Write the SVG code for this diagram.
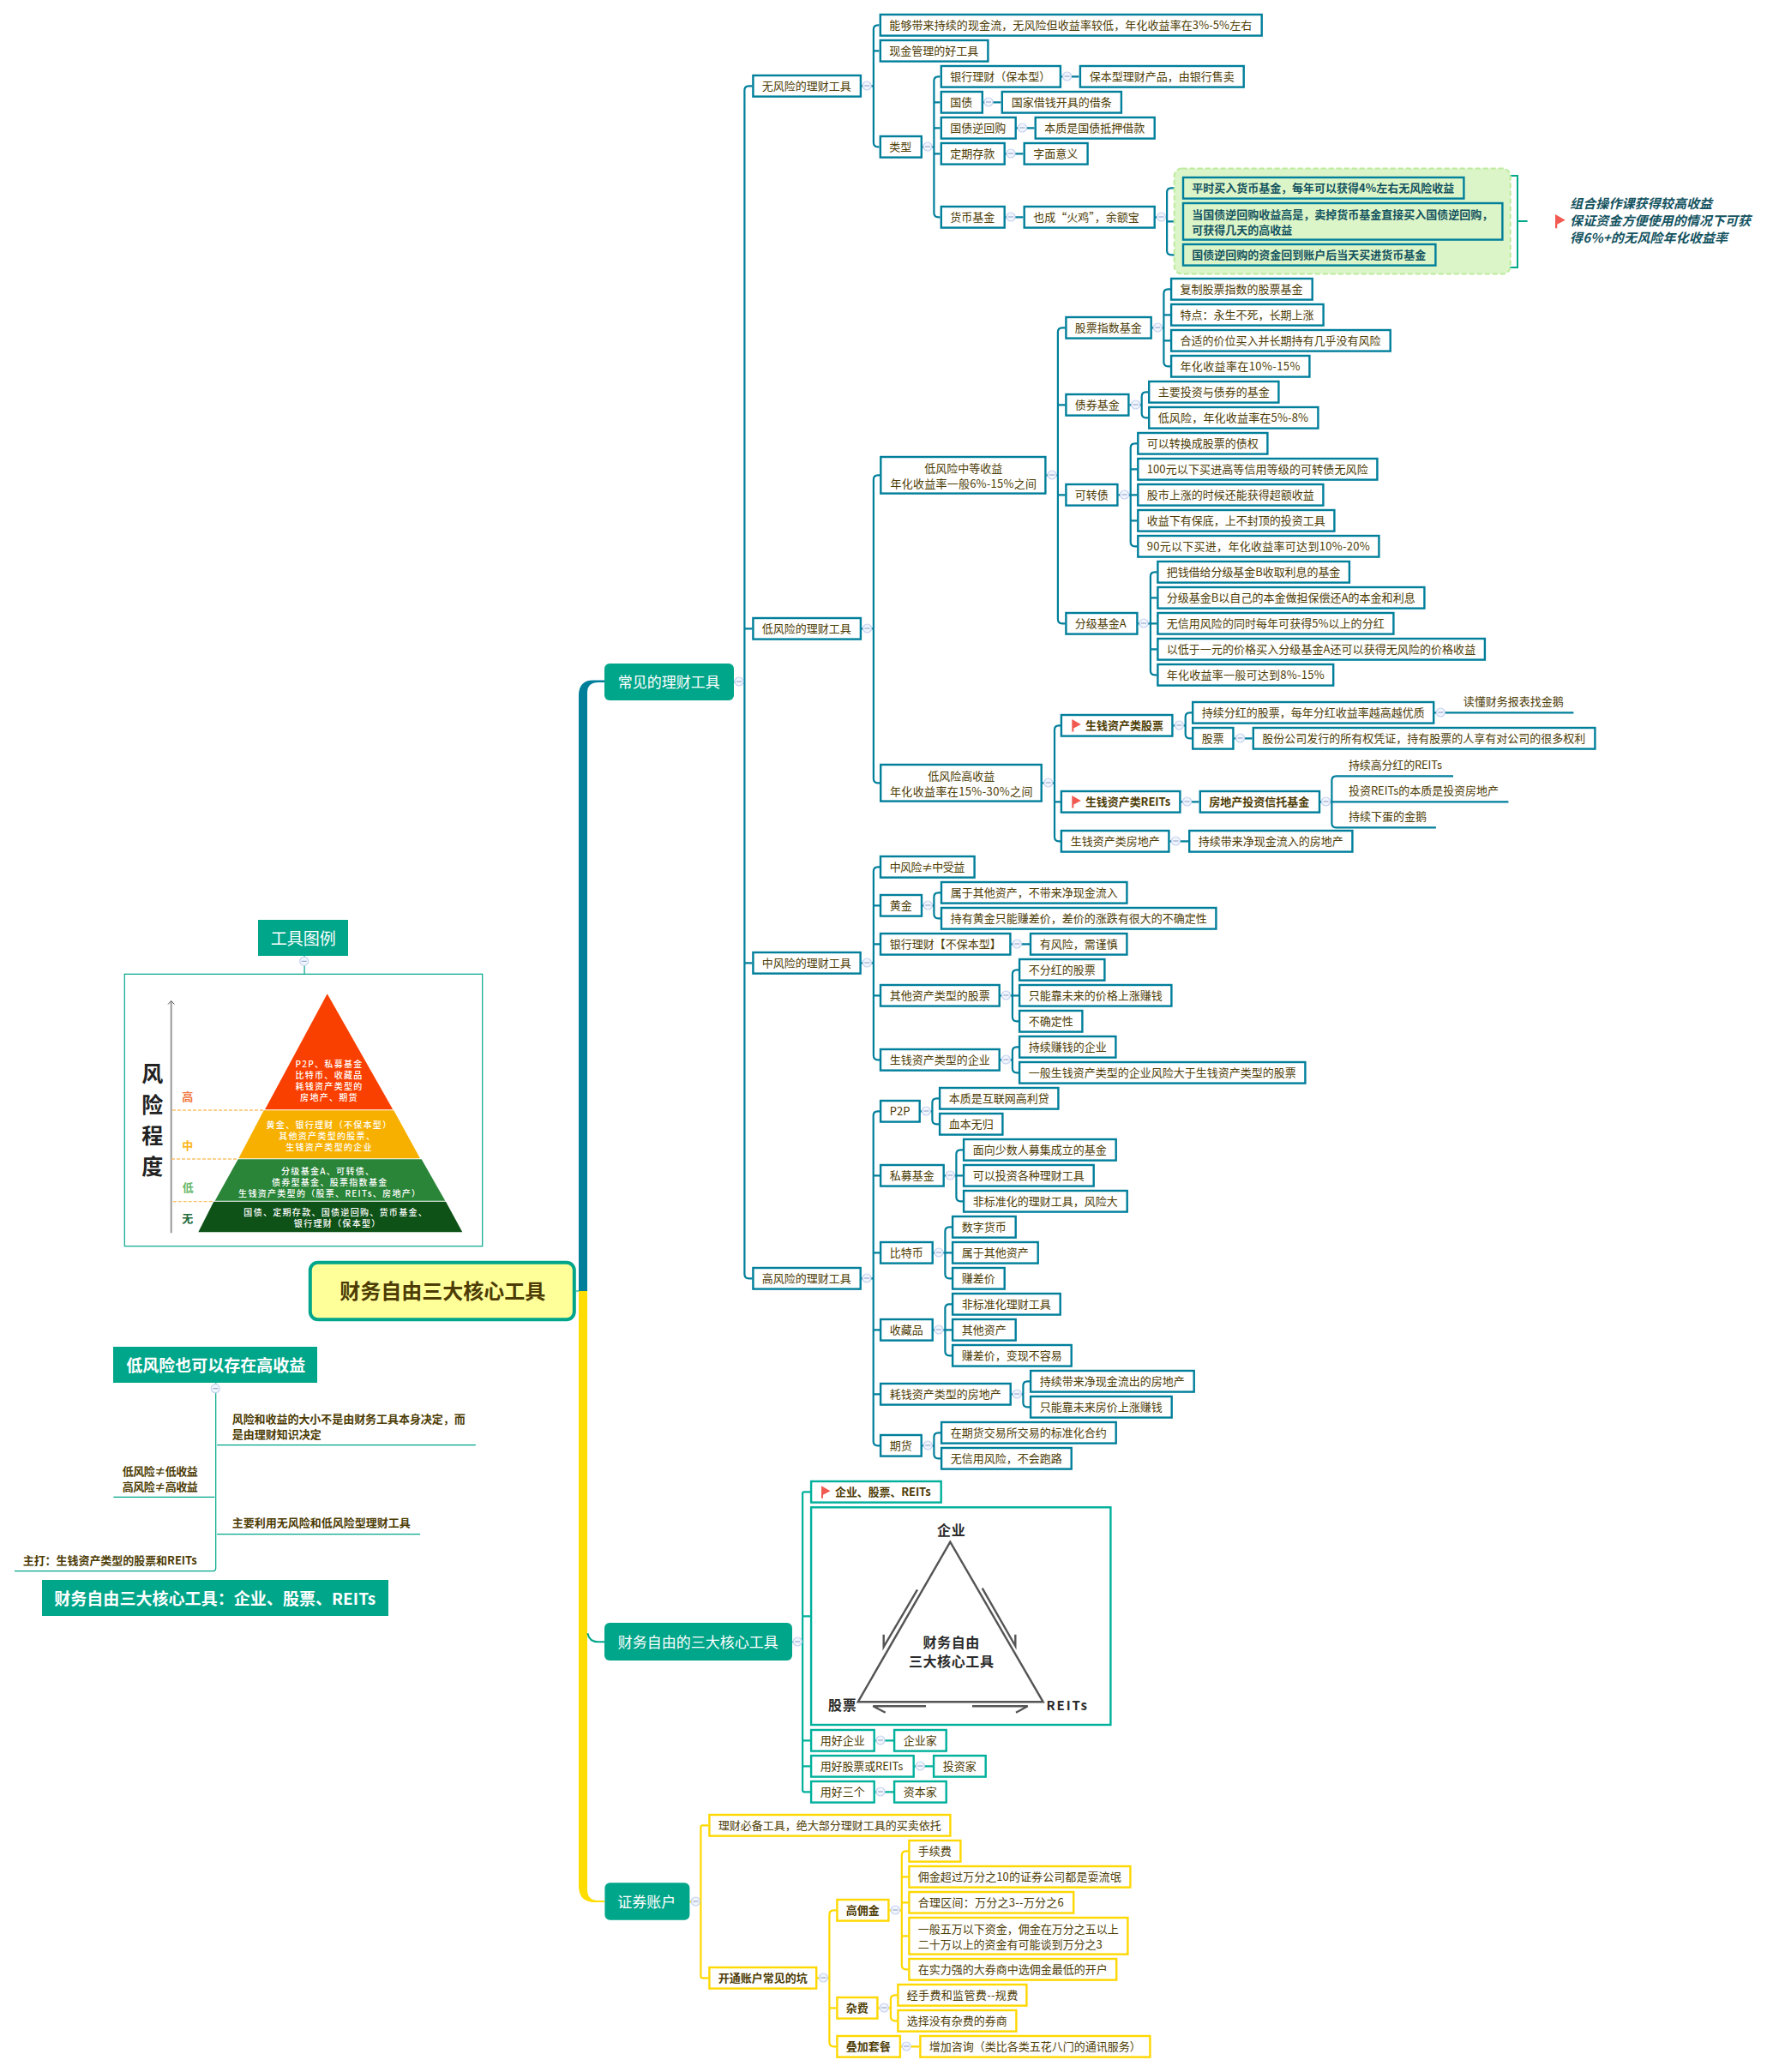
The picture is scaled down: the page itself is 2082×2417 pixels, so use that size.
<svg xmlns="http://www.w3.org/2000/svg" width="2082" height="2417" viewBox="0 0 2082 2417">
<style>
text{font-family:"Noto Sans CJK SC","Noto Sans",sans-serif;font-size:13px;fill:#4d3c05;transform:translate(.7px,.6px)}
.b,.g,.y,.gr{fill:#fff;stroke-width:2.4;transform:translate(.4px,.3px)}
.b{stroke:#007f9b}.gr{stroke:#007f9b;fill:#dbf5c8}.g{stroke:#00b09b}.y{stroke:#ffd800}
.cb,.cg,.cy,.ct{fill:none;stroke-width:2.2;transform:translate(.4px,.3px)}
.cb{stroke:#007f9b}.cg{stroke:#00b09b}.cy{stroke:#ffd800}.ct{stroke:#00a68a;stroke-width:1.2}
.m{fill:#00a68a}
.c{text-anchor:middle}
.bd{font-weight:700}
.dk{fill:#14535f;font-weight:700}
.p{fill:#fff;font-size:10px;letter-spacing:1.3px;text-anchor:middle;font-weight:500}
.tri{fill:#2b2b2b;font-weight:700;font-size:16px;text-anchor:middle;letter-spacing:.6px}
.d{stroke:#fbc26a;stroke-width:1.3;stroke-dasharray:4 2;fill:none}
.s{stroke:#555;stroke-width:2.4;fill:none}
.i{font-size:15px;font-style:italic}
</style>
<defs>
<g id="minus"><circle r="5" fill="#f1f5fd" stroke="#c5d2f0" stroke-width="1.2"/><path d="M-3 0H3" stroke="#8a9bc8" stroke-width="1"/></g>
<path id="flag" d="M0 0L10.5 6L2 10.5V14.5H0Z" fill="#f15a50"/>
</defs>
<rect width="2082" height="2417" fill="#fff"/>

<g id="connectors">
<path d="M705 793.5H692Q675 793.5 675 811V1506H685V808Q685 796 698 796H705Z" fill="#007f9b"/>
<path d="M675 1506V2200Q675 2219 694 2219H705V2217H698Q685 2217 685 2204V1506Z" fill="#ffdd00"/>
<path class="ct" d="M671 1505.7H675"/>
<path class="ct" d="M685 1905Q687 1915 697 1915H705" style="stroke-width:2"/>
<path class="cb" d="M856 795H868M877 100H873Q868 100 868 105V1486Q868 1491 873 1491H877M868 733H877M868 1123H877"/>
<path class="cb" d="M1004 100H1018.5M1025 29H1023.5Q1018.5 29 1018.5 34V166Q1018.5 171 1023.5 171H1025M1018.5 59H1025"/>
<path class="cb" d="M1075 171H1089M1096 89H1094Q1089 89 1089 94V248Q1089 253 1094 253H1096M1089 119H1096M1089 149H1096M1089 179H1096"/>
<path class="cb" d="M1237 89H1258M1146 119H1167M1185 149H1206M1172 179H1193M1172 253H1193M1347 253H1360.7M1378 219H1365.7Q1360.7 219 1360.7 224V292Q1360.7 297 1365.7 297H1378M1360.7 258H1378"/>
<path class="cb" d="M1004 733H1018.5M1026 554H1023.5Q1018.5 554 1018.5 559V908Q1018.5 913 1023.5 913H1026"/>
<path class="cb" d="M1220 554H1233.5M1242 382H1238.5Q1233.5 382 1233.5 387V722Q1233.5 727 1238.5 727H1242M1233.5 472H1242M1233.5 577H1242"/>
<path class="cb" d="M1343 382H1357M1365 337H1362Q1357 337 1357 342V422Q1357 427 1362 427H1365M1357 367H1365M1357 397H1365"/>
<path class="cb" d="M1317 472H1331.3M1339 457H1336.3Q1331.3 457 1331.3 462V482Q1331.3 487 1336.3 487H1339"/>
<path class="cb" d="M1304 577H1318.3M1326 517H1323.3Q1318.3 517 1318.3 522V632Q1318.3 637 1323.3 637H1326M1318.3 547H1326M1318.3 577H1326M1318.3 607H1326"/>
<path class="cb" d="M1327 727H1341.5M1349 667H1346.5Q1341.5 667 1341.5 672V782Q1341.5 787 1346.5 787H1349M1341.5 697H1349M1341.5 727H1349M1341.5 757H1349"/>
<path class="cb" d="M1215 913H1229.6M1237 846H1234.6Q1229.6 846 1229.6 851V976Q1229.6 981 1234.6 981H1237M1229.6 935H1237"/>
<path class="cb" d="M1368 846H1382.3M1390 831H1387.3Q1382.3 831 1382.3 836V856Q1382.3 861 1387.3 861H1390"/>
<path class="cb" d="M1672 831H1835M1439 861H1460M1377 935H1398M1539 935H1759M1694.6 905H1558Q1553 905 1553 910V960Q1553 965 1558 965H1674.5M1364 981H1386"/>
<path class="cb" d="M1004 1123H1018.5M1026 1011H1023.5Q1018.5 1011 1018.5 1016V1231Q1018.5 1236 1023.5 1236H1026M1018.5 1056H1026M1018.5 1101H1026M1018.5 1161H1026"/>
<path class="cb" d="M1075 1056H1089M1097 1041H1094Q1089 1041 1089 1046V1066Q1089 1071 1094 1071H1097M1179 1101H1201"/>
<path class="cb" d="M1166 1161H1180.5M1188 1131H1185.5Q1180.5 1131 1180.5 1136V1186Q1180.5 1191 1185.5 1191H1188M1180.5 1161H1188"/>
<path class="cb" d="M1166 1236H1180.5M1188 1221H1185.5Q1180.5 1221 1180.5 1226V1246Q1180.5 1251 1185.5 1251H1188"/>
<path class="cb" d="M1004 1491H1018.3M1026 1296H1023.3Q1018.3 1296 1018.3 1301V1681Q1018.3 1686 1023.3 1686H1026M1018.3 1371H1026M1018.3 1461H1026M1018.3 1551H1026M1018.3 1626H1026"/>
<path class="cb" d="M1073 1296H1087M1095 1281H1092Q1087 1281 1087 1286V1306Q1087 1311 1092 1311H1095"/>
<path class="cb" d="M1101 1371H1115M1123 1341H1120Q1115 1341 1115 1346V1396Q1115 1401 1120 1401H1123M1115 1371H1123"/>
<path class="cb" d="M1088 1461H1102M1110 1431H1107Q1102 1431 1102 1436V1486Q1102 1491 1107 1491H1110M1102 1461H1110"/>
<path class="cb" d="M1088 1551H1102M1110 1521H1107Q1102 1521 1102 1526V1576Q1102 1581 1107 1581H1110M1102 1551H1110"/>
<path class="cb" d="M1179 1626H1193M1201 1611H1198Q1193 1611 1193 1616V1636Q1193 1641 1198 1641H1201"/>
<path class="cb" d="M1075 1686H1089M1097 1671H1094Q1089 1671 1089 1676V1696Q1089 1701 1094 1701H1097"/>
<path class="cg" d="M924 1915H935.7M945 1740H937.7Q935.7 1740 935.7 1742V2088Q935.7 2090 937.7 2090H945M935.7 1885H945M935.7 2030H945M935.7 2060H945M1020 2030H1042M1066 2060H1088M1020 2090H1042"/>
<path class="cy" d="M804 2218H817M826 2129H819Q817 2129 817 2131V2305Q817 2307 819 2307H826M952 2307H967M975 2228H972Q967 2228 967 2233V2382Q967 2387 972 2387H975M967 2342H975"/>
<path class="cy" d="M1037 2228H1051.4M1059 2159H1056.4Q1051.4 2159 1051.4 2164V2292Q1051.4 2297 1056.4 2297H1059M1051.4 2189H1059M1051.4 2219H1059M1051.4 2258H1059M1024 2342H1038.5M1046 2327H1043.5Q1038.5 2327 1038.5 2332V2352Q1038.5 2357 1043.5 2357H1046M1050 2387H1072"/>
<path d="M1760.7 205H1770V312H1760.7M1770 258H1781.6" fill="none" stroke="#00a88a" stroke-width="2"/>
<path class="ct" d="M354.7 1115V1136.3M251.3 1613V1829Q251.3 1832.3 248 1832.3H16.5M252.7 1685.3H554.5M250 1746H132M252.7 1789.3H489.7"/>
</g>
<g id="collapse-handles">
<use href="#minus" x="862" y="795"/><use href="#minus" x="1011.2" y="100"/><use href="#minus" x="1082" y="171"/><use href="#minus" x="1244.6" y="89"/><use href="#minus" x="1153" y="119"/><use href="#minus" x="1192.4" y="149"/><use href="#minus" x="1179" y="179"/><use href="#minus" x="1179" y="253"/><use href="#minus" x="1354.5" y="253"/>
<use href="#minus" x="1011.6" y="733"/><use href="#minus" x="1227" y="554"/><use href="#minus" x="1350.4" y="382"/><use href="#minus" x="1324.6" y="472"/><use href="#minus" x="1311.6" y="577"/><use href="#minus" x="1334" y="727"/><use href="#minus" x="1222.7" y="913"/><use href="#minus" x="1375.4" y="846"/><use href="#minus" x="1680.3" y="831"/><use href="#minus" x="1446.6" y="861"/><use href="#minus" x="1384.6" y="935"/><use href="#minus" x="1546.5" y="935"/><use href="#minus" x="1371.4" y="981"/>
<use href="#minus" x="1011.3" y="1123"/><use href="#minus" x="1082.3" y="1056"/><use href="#minus" x="1186.3" y="1101"/><use href="#minus" x="1173.4" y="1161"/><use href="#minus" x="1173.4" y="1236"/>
<use href="#minus" x="1011" y="1491"/><use href="#minus" x="1080.3" y="1296"/><use href="#minus" x="1108.3" y="1371"/><use href="#minus" x="1095" y="1461"/><use href="#minus" x="1095" y="1551"/><use href="#minus" x="1186.3" y="1626"/><use href="#minus" x="1082.3" y="1686"/>
<use href="#minus" x="930.3" y="1915"/><use href="#minus" x="1027" y="2030"/><use href="#minus" x="1073.3" y="2060"/><use href="#minus" x="1027" y="2090"/>
<use href="#minus" x="811.3" y="2218"/><use href="#minus" x="960.4" y="2307"/><use href="#minus" x="1044.3" y="2228"/><use href="#minus" x="1031.3" y="2342"/><use href="#minus" x="1057.2" y="2387"/>
<use href="#minus" x="354.7" y="1121.3"/><use href="#minus" x="251.3" y="1619.7"/>
</g>

<g id="root"><rect x="361.8" y="1472.7" width="308" height="66.6" rx="9" fill="#ffff99" stroke="#00a68a" stroke-width="4"/><text class="c bd" x="515.5" y="1514.5" style="font-size:24px">财务自由三大核心工具</text></g>

<g id="main1"><rect class="m" x="705" y="774" width="151" height="43" rx="6"/><text class="c" x="779.5" y="801.5" style="font-size:17px;fill:#fff">常见的理财工具</text></g>
<g id="main2"><rect class="m" x="705" y="1893" width="219" height="44" rx="6"/><text class="c" x="813.5" y="1921" style="font-size:17px;fill:#fff">财务自由的三大核心工具</text></g>
<g id="main3"><rect class="m" x="705.4" y="2196.3" width="99" height="43.4" rx="6"/><text class="c" x="753.5" y="2224" style="font-size:17px;fill:#fff">证券账户</text></g>

<g id="n-wufengxian"><rect class="b" x="878" y="87.7" width="125.5" height="24.6"/><text x="888" y="104.5">无风险的理财工具</text></g>
<g id="n1"><rect class="b" x="1026.4" y="16.7" width="444.9" height="24.6"/><text x="1036.6" y="33.5" textLength="423">能够带来持续的现金流，无风险但收益率较低，年化收益率在3%-5%左右</text></g>
<g id="n2"><rect class="b" x="1026.4" y="46.7" width="125.6" height="24.6"/><text x="1036.6" y="63.5">现金管理的好工具</text></g>
<g id="n3"><rect class="b" x="1026.4" y="158.7" width="48" height="24.6"/><text x="1036.6" y="175.5">类型</text></g>
<g id="n4"><rect class="b" x="1097.4" y="76.7" width="139.1" height="24.6"/><text x="1107.6" y="93.5">银行理财（保本型）</text></g>
<g id="n5"><rect class="b" x="1259.5" y="76.7" width="190.8" height="24.6"/><text x="1270" y="93.5">保本型理财产品，由银行售卖</text></g>
<g id="n6"><rect class="b" x="1097.4" y="106.7" width="48" height="24.6"/><text x="1107.6" y="123.5">国债</text></g>
<g id="n7"><rect class="b" x="1168.4" y="106.7" width="139.1" height="24.6"/><text x="1179" y="123.5">国家借钱开具的借条</text></g>
<g id="n8"><rect class="b" x="1097.4" y="136.7" width="86.9" height="24.6"/><text x="1107.6" y="153.5">国债逆回购</text></g>
<g id="n9"><rect class="b" x="1207.3" y="136.7" width="139" height="24.6"/><text x="1217.6" y="153.5">本质是国债抵押借款</text></g>
<g id="n10"><rect class="b" x="1097.4" y="166.7" width="73.9" height="24.6"/><text x="1107.6" y="183.5">定期存款</text></g>
<g id="n11"><rect class="b" x="1194.3" y="166.7" width="73.9" height="24.6"/><text x="1204.6" y="183.5">字面意义</text></g>
<g id="n12"><rect class="b" x="1097.4" y="240.7" width="73.9" height="24.6"/><text x="1107.6" y="257.5">货币基金</text></g>
<g id="n13"><rect class="b" x="1194.3" y="240.7" width="152" height="24.6"/><text x="1204.6" y="257.5">也成“火鸡”，余额宝</text></g>

<g id="summary-box"><rect x="1369.7" y="196.5" width="392" height="123" rx="9" fill="#dbf5c8" stroke="#bdeb9e" stroke-width="2" stroke-dasharray="6 3"/></g>
<g id="n14"><rect class="gr" x="1379.6" y="206.7" width="327.4" height="24.6"/><text class="dk" x="1389.5" y="223.5" textLength="306">平时买入货币基金，每年可以获得4%左右无风险收益</text></g>
<g id="n15"><rect class="gr" x="1379.6" y="236.7" width="372.4" height="42.6"/><text class="dk" x="1389.5" y="254.5">当国债逆回购收益高是，卖掉货币基金直接买入国债逆回购，</text><text class="dk" x="1389.5" y="272.8">可获得几天的高收益</text></g>
<g id="n16"><rect class="gr" x="1379.6" y="284.7" width="294.4" height="24.6"/><text class="dk" x="1389.5" y="301.5">国债逆回购的资金回到账户后当天买进货币基金</text></g>
<g id="summary-note"><use href="#flag" transform="translate(1814 250) scale(1.12)"/><text class="dk i" x="1830.4" y="242.7" textLength="166">组合操作课获得较高收益</text><text class="dk i" x="1830.4" y="262.7" textLength="211">保证资金方便使用的情况下可获</text><text class="dk i" x="1830.4" y="282.7" textLength="184">得6%+的无风险年化收益率</text></g>

<g id="n-difengxian"><rect class="b" x="878" y="720.7" width="125.5" height="24.6"/><text x="888" y="737.5">低风险的理财工具</text></g>
<g id="n20"><rect class="b" x="1026.9" y="532.7" width="192.1" height="42.6"/><text class="c" x="1123" y="550.5">低风险中等收益</text><text class="c" x="1123" y="568.8" textLength="170.5">年化收益率一般6%-15%之间</text></g>
<g id="n21"><rect class="b" x="1243" y="369.7" width="99.3" height="24.6"/><text x="1253" y="386.5">股票指数基金</text></g>
<g id="n22"><rect class="b" x="1365.7" y="324.7" width="164.6" height="24.6"/><text x="1375.7" y="341.5">复制股票指数的股票基金</text></g>
<g id="n23"><rect class="b" x="1365.7" y="354.7" width="177.5" height="24.6"/><text x="1375.7" y="371.5">特点：永生不死，长期上涨</text></g>
<g id="n24"><rect class="b" x="1365.7" y="384.7" width="255.6" height="24.6"/><text x="1375.7" y="401.5">合适的价位买入并长期持有几乎没有风险</text></g>
<g id="n25"><rect class="b" x="1365.7" y="414.7" width="161.3" height="24.6"/><text x="1375.7" y="431.5" textLength="140">年化收益率在10%-15%</text></g>
<g id="n26"><rect class="b" x="1243" y="459.7" width="73" height="24.6"/><text x="1253" y="476.5">债券基金</text></g>
<g id="n27"><rect class="b" x="1339.8" y="444.7" width="151.2" height="24.6"/><text x="1350" y="461.5">主要投资与债券的基金</text></g>
<g id="n28"><rect class="b" x="1339.8" y="474.7" width="197.2" height="24.6"/><text x="1350" y="491.5" textLength="175.4">低风险，年化收益率在5%-8%</text></g>
<g id="n29"><rect class="b" x="1243" y="564.7" width="60" height="24.6"/><text x="1253" y="581.5">可转债</text></g>
<g id="n30"><rect class="b" x="1326.9" y="504.7" width="151.1" height="24.6"/><text x="1337" y="521.5">可以转换成股票的债权</text></g>
<g id="n31"><rect class="b" x="1326.9" y="534.7" width="279.1" height="24.6"/><text x="1337" y="551.5" textLength="258">100元以下买进高等信用等级的可转债无风险</text></g>
<g id="n32"><rect class="b" x="1326.9" y="564.7" width="216.1" height="24.6"/><text x="1337" y="581.5">股市上涨的时候还能获得超额收益</text></g>
<g id="n33"><rect class="b" x="1326.9" y="594.7" width="229.1" height="24.6"/><text x="1337" y="611.5">收益下有保底，上不封顶的投资工具</text></g>
<g id="n34"><rect class="b" x="1326.9" y="624.7" width="281.1" height="24.6"/><text x="1337" y="641.5" textLength="260">90元以下买进，年化收益率可达到10%-20%</text></g>
<g id="n35"><rect class="b" x="1243" y="714.7" width="83" height="24.6"/><text x="1253" y="731.5" textLength="60">分级基金A</text></g>
<g id="n36"><rect class="b" x="1350" y="654.7" width="223.5" height="24.6"/><text x="1360" y="671.5" textLength="202.7">把钱借给分级基金B收取利息的基金</text></g>
<g id="n37"><rect class="b" x="1350" y="684.7" width="311" height="24.6"/><text x="1360" y="701.5" textLength="290">分级基金B以自己的本金做担保偿还A的本金和利息</text></g>
<g id="n38"><rect class="b" x="1350" y="714.7" width="275" height="24.6"/><text x="1360" y="731.5" textLength="254">无信用风险的同时每年可获得5%以上的分红</text></g>
<g id="n39"><rect class="b" x="1350" y="744.7" width="381.5" height="24.6"/><text x="1360" y="761.5" textLength="360.5">以低于一元的价格买入分级基金A还可以获得无风险的价格收益</text></g>
<g id="n40"><rect class="b" x="1350" y="774.7" width="204.8" height="24.6"/><text x="1360" y="791.5" textLength="184">年化收益率一般可达到8%-15%</text></g>
<g id="n41"><rect class="b" x="1026.8" y="891.7" width="187.5" height="42.6"/><text class="c" x="1120.5" y="909.5">低风险高收益</text><text class="c" x="1120.5" y="927.8" textLength="166.5">年化收益率在15%-30%之间</text></g>
<g id="n42"><rect class="b" x="1237.5" y="833.7" width="129.5" height="24.6"/><use href="#flag" x="1250.3" y="839"/><text class="bd" x="1265.2" y="850.5">生钱资产类股票</text></g>
<g id="n43"><rect class="b" x="1390.8" y="818.7" width="281" height="24.6"/><text x="1401" y="835.5">持续分红的股票，每年分红收益率越高越优质</text></g>
<g id="n44"><text x="1706" y="822.5">读懂财务报表找金鹅</text></g>
<g id="n45"><rect class="b" x="1390.8" y="848.7" width="47.2" height="24.6"/><text x="1401" y="865.5">股票</text></g>
<g id="n46"><rect class="b" x="1461.4" y="848.7" width="398.6" height="24.6"/><text x="1471.5" y="865.5">股份公司发行的所有权凭证，持有股票的人享有对公司的很多权利</text></g>
<g id="n47"><rect class="b" x="1237.5" y="922.7" width="138.5" height="24.6"/><use href="#flag" x="1250.3" y="928"/><text class="bd" x="1265.2" y="939.5" textLength="99.3">生钱资产类REITs</text></g>
<g id="n48"><rect class="b" x="1399.4" y="922.7" width="139.2" height="24.6"/><text class="bd" x="1409.5" y="939.5">房地产投资信托基金</text></g>
<g id="n49"><text x="1572.3" y="896.5" textLength="109">持续高分红的REITs</text></g>
<g id="n50"><text x="1572.3" y="926.5" textLength="175">投资REITs的本质是投资房地产</text></g>
<g id="n51"><text x="1572.3" y="956.5">持续下蛋的金鹅</text></g>
<g id="n52"><rect class="b" x="1237.5" y="968.7" width="125.5" height="24.6"/><text x="1248" y="985.5">生钱资产类房地产</text></g>
<g id="n53"><rect class="b" x="1386.8" y="968.7" width="190.2" height="24.6"/><text x="1397" y="985.5">持续带来净现金流入的房地产</text></g>

<g id="n-zhongfengxian"><rect class="b" x="878" y="1110.7" width="125.2" height="24.6"/><text x="888" y="1127.5">中风险的理财工具</text></g>
<g id="n60"><rect class="b" x="1026.6" y="998.7" width="109.6" height="24.6"/><text x="1037" y="1015.5" textLength="87.5">中风险≠中受益</text></g>
<g id="n61"><rect class="b" x="1026.6" y="1043.7" width="48" height="24.6"/><text x="1037" y="1060.5">黄金</text></g>
<g id="n62"><rect class="b" x="1097.6" y="1028.7" width="216.4" height="24.6"/><text x="1108" y="1045.5">属于其他资产，不带来净现金流入</text></g>
<g id="n63"><rect class="b" x="1097.6" y="1058.7" width="320.4" height="24.6"/><text x="1108" y="1075.5">持有黄金只能赚差价，差价的涨跌有很大的不确定性</text></g>
<g id="n64"><rect class="b" x="1026.6" y="1088.7" width="151.4" height="24.6"/><text x="1037" y="1105.5">银行理财【不保本型】</text></g>
<g id="n65"><rect class="b" x="1201.6" y="1088.7" width="112.4" height="24.6"/><text x="1212" y="1105.5">有风险，需谨慎</text></g>
<g id="n66"><rect class="b" x="1026.6" y="1148.7" width="138.7" height="24.6"/><text x="1037" y="1165.5">其他资产类型的股票</text></g>
<g id="n67"><rect class="b" x="1188.7" y="1118.7" width="99.3" height="24.6"/><text x="1199" y="1135.5">不分红的股票</text></g>
<g id="n68"><rect class="b" x="1188.7" y="1148.7" width="177.3" height="24.6"/><text x="1199" y="1165.5">只能靠未来的价格上涨赚钱</text></g>
<g id="n69"><rect class="b" x="1188.7" y="1178.7" width="73.3" height="24.6"/><text x="1199" y="1195.5">不确定性</text></g>
<g id="n70"><rect class="b" x="1026.6" y="1223.7" width="138.7" height="24.6"/><text x="1037" y="1240.5">生钱资产类型的企业</text></g>
<g id="n71"><rect class="b" x="1188.7" y="1208.7" width="112.3" height="24.6"/><text x="1199" y="1225.5">持续赚钱的企业</text></g>
<g id="n72"><rect class="b" x="1188.7" y="1238.7" width="333.3" height="24.6"/><text x="1199" y="1255.5">一般生钱资产类型的企业风险大于生钱资产类型的股票</text></g>

<g id="n-gaofengxian"><rect class="b" x="878" y="1478.7" width="125.3" height="24.6"/><text x="888" y="1495.5">高风险的理财工具</text></g>
<g id="n80"><rect class="b" x="1026.7" y="1283.7" width="45.6" height="24.6"/><text x="1037" y="1300.5" textLength="23.7">P2P</text></g>
<g id="n81"><rect class="b" x="1095.7" y="1268.7" width="138.3" height="24.6"/><text x="1106" y="1285.5">本质是互联网高利贷</text></g>
<g id="n82"><rect class="b" x="1095.7" y="1298.7" width="73.3" height="24.6"/><text x="1106" y="1315.5">血本无归</text></g>
<g id="n83"><rect class="b" x="1026.7" y="1358.7" width="73.6" height="24.6"/><text x="1037" y="1375.5">私募基金</text></g>
<g id="n84"><rect class="b" x="1123.7" y="1328.7" width="177.6" height="24.6"/><text x="1134" y="1345.5">面向少数人募集成立的基金</text></g>
<g id="n85"><rect class="b" x="1123.7" y="1358.7" width="151.6" height="24.6"/><text x="1134" y="1375.5">可以投资各种理财工具</text></g>
<g id="n86"><rect class="b" x="1123.7" y="1388.7" width="190.6" height="24.6"/><text x="1134" y="1405.5">非标准化的理财工具，风险大</text></g>
<g id="n87"><rect class="b" x="1026.7" y="1448.7" width="60.6" height="24.6"/><text x="1037" y="1465.5">比特币</text></g>
<g id="n88"><rect class="b" x="1110.7" y="1418.7" width="73.6" height="24.6"/><text x="1121" y="1435.5">数字货币</text></g>
<g id="n89"><rect class="b" x="1110.7" y="1448.7" width="99.6" height="24.6"/><text x="1121" y="1465.5">属于其他资产</text></g>
<g id="n90"><rect class="b" x="1110.7" y="1478.7" width="60.6" height="24.6"/><text x="1121" y="1495.5">赚差价</text></g>
<g id="n91"><rect class="b" x="1026.7" y="1538.7" width="60.6" height="24.6"/><text x="1037" y="1555.5">收藏品</text></g>
<g id="n92"><rect class="b" x="1110.7" y="1508.7" width="125.6" height="24.6"/><text x="1121" y="1525.5">非标准化理财工具</text></g>
<g id="n93"><rect class="b" x="1110.7" y="1538.7" width="73.6" height="24.6"/><text x="1121" y="1555.5">其他资产</text></g>
<g id="n94"><rect class="b" x="1110.7" y="1568.7" width="138.6" height="24.6"/><text x="1121" y="1585.5">赚差价，变现不容易</text></g>
<g id="n95"><rect class="b" x="1026.7" y="1613.7" width="151.6" height="24.6"/><text x="1037" y="1630.5">耗钱资产类型的房地产</text></g>
<g id="n96"><rect class="b" x="1201.7" y="1598.7" width="190.6" height="24.6"/><text x="1212" y="1615.5">持续带来净现金流出的房地产</text></g>
<g id="n97"><rect class="b" x="1201.7" y="1628.7" width="164.6" height="24.6"/><text x="1212" y="1645.5">只能靠未来房价上涨赚钱</text></g>
<g id="n98"><rect class="b" x="1026.7" y="1673.7" width="47.6" height="24.6"/><text x="1037" y="1690.5">期货</text></g>
<g id="n99"><rect class="b" x="1097.7" y="1658.7" width="203.6" height="24.6"/><text x="1108" y="1675.5">在期货交易所交易的标准化合约</text></g>
<g id="n100"><rect class="b" x="1097.7" y="1688.7" width="151.6" height="24.6"/><text x="1108" y="1705.5">无信用风险，不会跑路</text></g>

<g id="n110"><rect class="g" x="945.7" y="1727.7" width="151.6" height="24.6"/><use href="#flag" x="958" y="1733.3"/><text class="bd" x="973.3" y="1744.5" textLength="111.7">企业、股票、REITs</text></g>
<g id="triangle-figure"><rect class="g" x="945.7" y="1758" width="349.3" height="253.7"/>
<path class="s" d="M1108.3 1798.7L1000.7 1985.3H1216.7Z"/>
<path class="s" d="M1070 1854.3L1030.7 1921V1906.7M1145.7 1852.7L1184.3 1920V1906.7M1080 1990.3H1018.3L1032.7 1997.7M1134 1990.3H1198.7L1185 1997.7"/>
<text class="tri" x="1109" y="1790">企业</text><text class="tri" x="1109" y="1921">财务自由</text><text class="tri" x="1109" y="1943">三大核心工具</text><text class="tri" x="982" y="1994">股票</text><text class="tri" x="1244.5" y="1994" style="letter-spacing:1.8px;font-size:15px">REITs</text></g>
<g id="n111"><rect class="g" x="945.7" y="2017.7" width="73.6" height="24.6"/><text x="956" y="2034.5">用好企业</text></g>
<g id="n112"><rect class="g" x="1042.7" y="2017.7" width="60.6" height="24.6"/><text x="1053" y="2034.5">企业家</text></g>
<g id="n113"><rect class="g" x="945.7" y="2047.7" width="119.6" height="24.6"/><text x="956" y="2064.5" textLength="96.7">用好股票或REITs</text></g>
<g id="n114"><rect class="g" x="1088.7" y="2047.7" width="60.6" height="24.6"/><text x="1099" y="2064.5">投资家</text></g>
<g id="n115"><rect class="g" x="945.7" y="2077.7" width="73.6" height="24.6"/><text x="956" y="2094.5">用好三个</text></g>
<g id="n116"><rect class="g" x="1042.7" y="2077.7" width="60.6" height="24.6"/><text x="1053" y="2094.5">资本家</text></g>

<g id="n120"><rect class="y" x="827" y="2116.7" width="281" height="24.6"/><text x="837" y="2133.5">理财必备工具，绝大部分理财工具的买卖依托</text></g>
<g id="n121"><rect class="y" x="827" y="2294.7" width="124.8" height="24.6"/><text class="bd" x="837" y="2311.5">开通账户常见的坑</text></g>
<g id="n122"><rect class="y" x="976" y="2215.7" width="60" height="24.6"/><text class="bd" x="986" y="2232.5">高佣金</text></g>
<g id="n123"><rect class="y" x="1060" y="2146.7" width="60" height="24.6"/><text x="1070" y="2163.5">手续费</text></g>
<g id="n124"><rect class="y" x="1060" y="2176.7" width="258" height="24.6"/><text x="1070" y="2193.5" textLength="237">佣金超过万分之10的证券公司都是耍流氓</text></g>
<g id="n125"><rect class="y" x="1060" y="2206.7" width="191.8" height="24.6"/><text x="1070" y="2223.5" textLength="170">合理区间：万分之3--万分之6</text></g>
<g id="n126"><rect class="y" x="1060" y="2236.7" width="255" height="42.6"/><text x="1070" y="2254.5">一般五万以下资金，佣金在万分之五以上</text><text x="1070" y="2272.8" textLength="215">二十万以上的资金有可能谈到万分之3</text></g>
<g id="n127"><rect class="y" x="1060" y="2284.7" width="241.8" height="24.6"/><text x="1070" y="2301.5">在实力强的大券商中选佣金最低的开户</text></g>
<g id="n128"><rect class="y" x="976" y="2329.7" width="47" height="24.6"/><text class="bd" x="986" y="2346.5">杂费</text></g>
<g id="n129"><rect class="y" x="1047" y="2314.7" width="150" height="24.6"/><text x="1057" y="2331.5" textLength="129.5">经手费和监管费--规费</text></g>
<g id="n130"><rect class="y" x="1047" y="2344.7" width="138" height="24.6"/><text x="1057" y="2361.5">选择没有杂费的券商</text></g>
<g id="n131"><rect class="y" x="976" y="2374.7" width="73.5" height="24.6"/><text class="bd" x="986" y="2391.5">叠加套餐</text></g>
<g id="n132"><rect class="y" x="1073" y="2374.7" width="268" height="24.6"/><text x="1083" y="2391.5">增加咨询（类比各类五花八门的通讯服务）</text></g>

<g id="legend-title"><rect class="m" x="301" y="1073" width="105" height="42"/><text class="c" x="353" y="1101" style="font-size:19px;fill:#fff">工具图例</text></g>
<g id="legend-figure"><rect x="145.3" y="1136.3" width="417.4" height="317.4" fill="#fff" stroke="#00a68a" stroke-width="1.2"/>
<path d="M199.7 1438.3V1168" stroke="#999" stroke-width="2" fill="none"/><path d="M196 1171.5L199.7 1167.5L203.4 1171.5" stroke="#555" stroke-width="1" fill="none"/>
<path class="d" d="M201 1295H308M200 1352H277M201.7 1401.7H250"/>
<path d="M381.7 1159.3L458.3 1294.3H309Z" fill="#fa4000"/>
<path d="M307.7 1295.3H459.3L490 1351.3H278.3Z" fill="#f8b000"/>
<path d="M277.7 1352.3H491.7L519.3 1400.7H250.7Z" fill="#2a8539"/>
<path d="M249.3 1401.7H520L539.3 1437.3H231.3Z" fill="#0e5218"/>
<text class="p" x="383.3" y="1244">P2P、私募基金</text><text class="p" x="383.3" y="1257.5">比特币、收藏品</text><text class="p" x="383.3" y="1270.5">耗钱资产类型的</text><text class="p" x="383.3" y="1283.5">房地产、期货</text>
<text class="p" x="383.3" y="1315">黄金、银行理财（不保本型）</text><text class="p" x="381" y="1328">其他资产类型的股票、</text><text class="p" x="383.3" y="1341">生钱资产类型的企业</text>
<text class="p" x="382" y="1369">分级基金A、可转债、</text><text class="p" x="384" y="1382">债券型基金、股票指数基金</text><text class="p" x="384" y="1395">生钱资产类型的（股票、REITs、房地产）</text>
<text class="p" x="391" y="1417.2">国债、定期存款、国债逆回购、货币基金、</text><text class="p" x="393" y="1430.5">银行理财（保本型）</text>
<text class="c bd" x="177" y="1261.5" style="font-size:25px;fill:#222">风</text><text class="c bd" x="177" y="1297.5" style="font-size:25px;fill:#222">险</text><text class="c bd" x="177" y="1333" style="font-size:25px;fill:#222">程</text><text class="c bd" x="177" y="1369" style="font-size:25px;fill:#222">度</text>
<text class="c bd" x="218" y="1283.5" style="fill:#f0763c">高</text><text class="c bd" x="218" y="1340" style="fill:#fdb515">中</text><text class="c bd" x="218.5" y="1389.2" style="fill:#67b86b">低</text><text class="c bd" x="218" y="1425.2" style="fill:#1f6b3a">无</text></g>

<g id="note-title"><rect class="m" x="132" y="1571" width="238" height="42"/><text class="c bd" x="251" y="1599" style="font-size:19px;fill:#fff">低风险也可以存在高收益</text></g>
<g id="note1"><text class="bd" x="270" y="1659.5" textLength="272">风险和收益的大小不是由财务工具本身决定，而</text><text class="bd" x="270" y="1677">是由理财知识决定</text></g>
<g id="note2"><text class="bd" x="142" y="1720" textLength="88">低风险≠低收益</text><text class="bd" x="142" y="1738" textLength="88">高风险≠高收益</text></g>
<g id="note3"><text class="bd" x="270" y="1780.5">主要利用无风险和低风险型理财工具</text></g>
<g id="note4"><text class="bd" x="26" y="1824" textLength="203">主打：生钱资产类型的股票和REITs</text></g>
<g id="note-bottom"><rect class="m" x="49" y="1843" width="404" height="42"/><text class="c bd" x="250" y="1871" style="font-size:19px;fill:#fff" textLength="375">财务自由三大核心工具：企业、股票、REITs</text></g>
</svg>
